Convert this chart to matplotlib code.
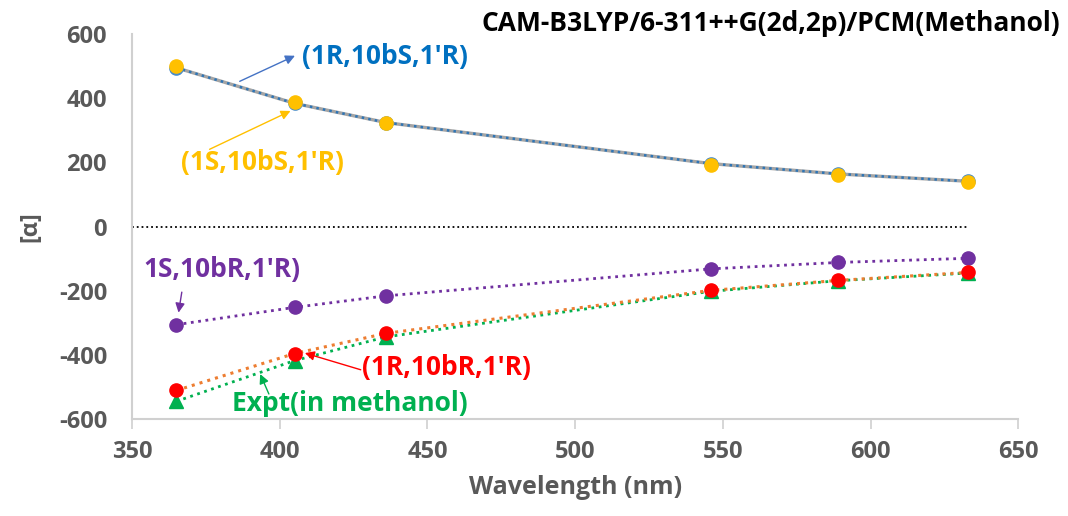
import numpy as np
import matplotlib.pyplot as plt

plt.rcParams['font.family'] = ['Open Sans', 'DejaVu Sans']
plt.rcParams['axes.unicode_minus'] = False

wavelength = [365, 405, 436, 546, 589, 633]
r_10bs = [495, 384, 324, 196, 164, 141]     # (1R,10bS,1'R)
s_10bs = [501, 387, 324, 193, 162, 139]     # (1S,10bS,1'R)
s_10br = [-306, -252, -216, -132, -112, -99]  # 1S,10bR,1'R)
r_10br = [-511, -396, -333, -199, -168, -143]  # (1R,10bR,1'R)
expt = [-545, -418, -344, -202, -169, -145]    # Expt(in methanol)
zero_x = [350, 633]
zero_y = [0, 0]

fig = plt.figure(figsize=(10.68, 5.16), dpi=100)
ax = fig.add_axes([0.1236, 0.188, 0.830, 0.746])

ax.plot(zero_x, zero_y, ':', color='black', lw=1.3, zorder=1)

ax.plot(wavelength, r_10bs, '-', color='#A5A5A5', lw=2.4, zorder=2)
ax.plot(wavelength, r_10bs, ':', color='#2E75B6', lw=1.8, zorder=3)
ax.plot(wavelength, r_10bs, 'o', color='#4A8CC7', ms=9.5, zorder=4)
ax.plot(wavelength, s_10bs, 'o', color='#FFC000', ms=9.5, zorder=5)

ax.plot(wavelength, s_10br, ':', color='#7030A0', lw=2, zorder=2)
ax.plot(wavelength, s_10br, 'o', color='#7030A0', ms=9.5, zorder=4)

ax.plot(wavelength, expt, ':', color='#00B050', lw=2, zorder=2)
ax.plot(wavelength, r_10br, ':', color='#ED7D31', lw=2.2, zorder=3)
ax.plot(wavelength, expt, '^', color='#00B050', ms=9.5, zorder=4)
ax.plot(wavelength, r_10br, 'o', color='#FF0000', ms=9.5, zorder=5)

ax.set_xlim(350, 650)
ax.set_ylim(-600, 600)
ax.set_xticks(np.arange(350, 651, 50))
ax.set_yticks(np.arange(-600, 601, 200))

for s in ['top', 'right']:
    ax.spines[s].set_visible(False)
for s in ['left', 'bottom']:
    ax.spines[s].set_color('#D0D0D0')
    ax.spines[s].set_linewidth(1.5)
ax.tick_params(axis='x', length=7, width=1.2, color='#D0D0D0', pad=8,
               labelsize=17, labelcolor='#595959')
ax.tick_params(axis='y', length=0, pad=18, labelsize=17, labelcolor='#595959')
for lbl in ax.get_xticklabels() + ax.get_yticklabels():
    lbl.set_fontweight('bold')

ax.set_xlabel('Wavelength (nm)', fontsize=18, fontweight='bold', color='#595959', labelpad=8)
ax.set_ylabel('[α]', fontsize=17, fontweight='bold', color='#595959', labelpad=12)

fig.text(0.993, 0.955, 'CAM-B3LYP/6-311++G(2d,2p)/PCM(Methanol)', ha='right', va='center',
         fontsize=19, fontweight='bold', color='black')

def note(text, xy, xytext, color, tx, ty, tcolor=None):
    ax.annotate('', xy=xy, xytext=xytext,
                arrowprops=dict(arrowstyle='-|>', color=color, lw=1, mutation_scale=14))
    ax.text(tx, ty, text, color=tcolor or color, fontsize=19, fontweight='bold',
            ha='left', va='center')

note("(1R,10bS,1'R)", (406, 536), (385.6, 449), '#4472C4', 407.5, 530, '#0070C0')
note("(1S,10bS,1'R)", (404.5, 364), (375.4, 237), '#FFC000', 366.5, 200)
note("1S,10bR,1'R)", (365.6, -277), (367, -196), '#7030A0', 354, -134)
note("(1R,10bR,1'R)", (407.6, -392), (428.3, -449), '#FF0000', 428, -439)
note("Expt(in methanol)", (393, -452), (396.7, -530), '#00B050', 384, -551)

fig.savefig('out.png', dpi=100)
